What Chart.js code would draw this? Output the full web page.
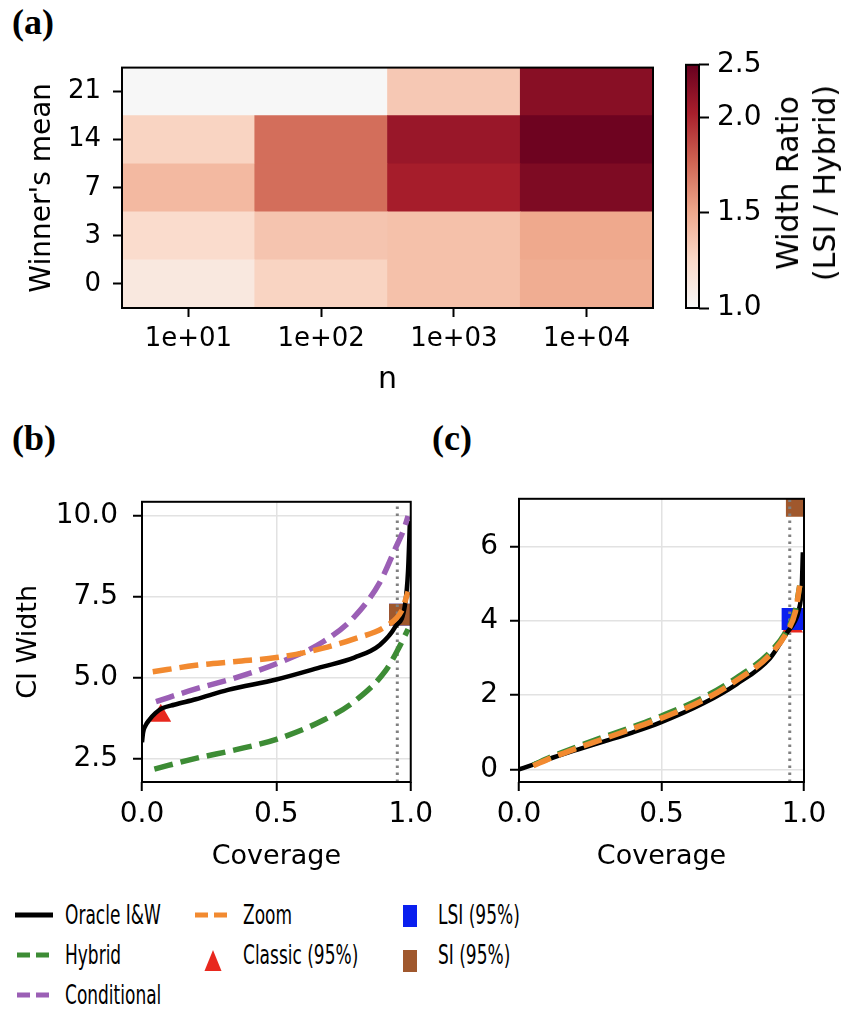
<!DOCTYPE html>
<html lang="en">
<head>
  <meta charset="UTF-8">
  <title>Width ratio heatmap and CI width vs coverage</title>
  <script src="https://cdn.jsdelivr.net/npm/chart.js@4.4.1/dist/chart.umd.min.js"></script>
  <style>
    body {
      margin: 0;
      background: #fff;
      font-family: 'DejaVu Sans', sans-serif;
      color: #000;
    }
    #page {
      position: relative;
      width: 844px;
      height: 1013px;
      overflow: hidden;
    }
    canvas { position: absolute; }
    .panel {
      position: absolute;
      font-family: 'Liberation Serif', serif;
      font-weight: bold;
      font-size: 36px;
      line-height: 1;
    }
    #cbarLabel {
      position: absolute;
      left: 806px;
      top: 183px;
      transform: translate(-50%, -50%) rotate(-90deg);
      font-size: 30px;
      line-height: 37px;
      text-align: center;
      white-space: nowrap;
    }
    .legText {
      position: absolute;
      font-size: 27px;
      line-height: 32px;
      white-space: nowrap;
      transform: scaleX(0.63);
      transform-origin: left center;
    }
    svg.legMark { position: absolute; left: 0; top: 880px; }
  </style>
</head>
<body>
<div id="page">
  <div class="panel" style="left:12px; top:4px;">(a)</div>
  <div class="panel" style="left:12px; top:420px;">(b)</div>
  <div class="panel" style="left:432px; top:420px;">(c)</div>

  <canvas id="heat" width="660" height="360" style="left:0; top:40px;"></canvas>
  <canvas id="cbar" width="100" height="360" style="left:670px; top:40px;"></canvas>
  <div id="cbarLabel">Width Ratio<br>(LSI / Hybrid)</div>

  <canvas id="chartB" width="440" height="410" style="left:0; top:470px;"></canvas>
  <canvas id="chartC" width="404" height="410" style="left:440px; top:470px;"></canvas>

  <!-- legend -->
  <svg class="legMark" width="844" height="133">
    <line x1="15" y1="35" x2="53" y2="35" stroke="#000" stroke-width="5"/>
    <line x1="17" y1="75" x2="49" y2="75" stroke="#3d8c35" stroke-width="5" stroke-dasharray="13 6"/>
    <line x1="17" y1="115" x2="49" y2="115" stroke="#9b5fb5" stroke-width="5" stroke-dasharray="13 6"/>
    <line x1="195" y1="35" x2="227" y2="35" stroke="#f28a30" stroke-width="5" stroke-dasharray="13 6"/>
    <polygon points="213,70 204.5,91 221.5,91" fill="#e8281e"/>
    <rect x="403" y="25" width="14" height="22" fill="#0a1fef"/>
    <rect x="403" y="70" width="14" height="22" fill="#a0582d"/>
  </svg>
  <div class="legText" style="left:65px; top:899px;">Oracle I&amp;W</div>
  <div class="legText" style="left:65px; top:939px;">Hybrid</div>
  <div class="legText" style="left:65px; top:979px;">Conditional</div>
  <div class="legText" style="left:243px; top:899px;">Zoom</div>
  <div class="legText" style="left:243px; top:939px;">Classic (95%)</div>
  <div class="legText" style="left:438px; top:899px;">LSI (95%)</div>
  <div class="legText" style="left:438px; top:939px;">SI (95%)</div>
</div>

<script>
  // ---- (a) heatmap data: width ratio LSI / Hybrid ----
  const nLabels = ['1e+01', '1e+02', '1e+03', '1e+04'];
  const meanLabels = ['0', '3', '7', '14', '21'];   // bottom to top
  const ratioMean0  = [1.13, 1.28, 1.38, 1.48];
  const ratioMean3  = [1.23, 1.36, 1.38, 1.50];
  const ratioMean7  = [1.42, 1.73, 2.06, 2.34];
  const ratioMean14 = [1.28, 1.73, 2.15, 2.45];
  const ratioMean21 = [1.00, 1.00, 1.34, 2.27];
  const ratioRows = [ratioMean0, ratioMean3, ratioMean7, ratioMean14, ratioMean21];

  // colorbar: tick values and where they sit on the bar (0 = bottom, 1 = top)
  const cbarTicks = [1.0, 1.5, 2.0, 2.5];
  const cbarPos = [0, 0.392, 0.784, 1];

  // ---- (b) CI width vs coverage ----
  const bOracleCov   = [0, 0.004, 0.012, 0.028, 0.05, 0.075, 0.12, 0.2, 0.32, 0.5, 0.67, 0.79, 0.885, 0.944, 0.979, 0.99, 0.997];
  const bOracleWidth = [3.0, 3.3, 3.5, 3.7, 3.9, 4.05, 4.16, 4.33, 4.62, 4.94, 5.33, 5.62, 6.01, 6.59, 7.27, 8.3, 9.85];
  const bHybridCov   = [0.046, 0.2, 0.35, 0.5, 0.674, 0.79, 0.908, 0.955, 0.99];
  const bHybridWidth = [2.17, 2.5, 2.77, 3.09, 3.68, 4.26, 5.23, 5.91, 6.5];
  const bCondCov     = [0.052, 0.2, 0.35, 0.5, 0.674, 0.79, 0.885, 0.944, 0.975, 0.99];
  const bCondWidth   = [4.26, 4.65, 5.0, 5.43, 6.11, 6.88, 7.95, 9.02, 9.6, 10.0];
  const bZoomCov     = [0.04, 0.2, 0.35, 0.5, 0.674, 0.79, 0.908, 0.967, 0.99];
  const bZoomWidth   = [5.18, 5.38, 5.5, 5.62, 5.91, 6.2, 6.59, 7.08, 7.66];
  const bClassic = [0.07, 3.82];
  const bLSI     = [0.96, 6.95];
  const bSI      = [0.96, 6.95];

  // ---- (c) ----
  const cOracleCov   = [0, 0.05, 0.12, 0.2, 0.296, 0.4, 0.495, 0.647, 0.764, 0.88, 0.939, 0.965, 0.982, 0.992, 0.996];
  const cOracleWidth = [0, 0.13, 0.32, 0.52, 0.75, 1.0, 1.26, 1.78, 2.3, 2.99, 3.67, 3.95, 4.3, 4.9, 5.85];
  const cHybridCov   = [0.05, 0.12, 0.2, 0.3, 0.4, 0.5, 0.65, 0.76, 0.88, 0.94, 0.97, 0.985];
  const cHybridWidth = [0.12, 0.36, 0.6, 0.88, 1.15, 1.44, 1.95, 2.45, 3.15, 3.75, 4.3, 4.95];
  const cZoomCov     = [0.05, 0.12, 0.2, 0.3, 0.4, 0.5, 0.65, 0.76, 0.88, 0.94, 0.97, 0.985];
  const cZoomWidth   = [0.1, 0.33, 0.56, 0.83, 1.1, 1.38, 1.88, 2.38, 3.08, 3.7, 4.25, 4.95];
  const cClassic = [0.96, 3.85];
  const cLSI     = [0.96, 4.05];
  const cSI      = [0.975, 7.1];

  const targetCoverage = 0.95;

  const COL = {
    oracle: '#000000', hybrid: '#3d8c35', cond: '#9b5fb5', zoom: '#f28a30',
    classic: '#e8281e', lsi: '#0a1fef', si: '#a0582d', target: '#808080'
  };

  Chart.defaults.font.family = "'DejaVu Sans', sans-serif";
  Chart.defaults.color = '#000';
  Chart.defaults.animation = false;

  // RdBu_r upper half
  const cmapStops = [[0, '#f7f7f7'], [0.2, '#fad9c8'], [0.4, '#efa78b'], [0.6, '#cf6553'], [0.8, '#a91f2c'], [1, '#67001f']];

  function hexRgb(h) {
    return [1, 3, 5].map(i => parseInt(h.slice(i, i + 2), 16));
  }
  function cmap(p) {
    p = Math.max(0, Math.min(1, p));
    for (let i = 1; i < cmapStops.length; i++) {
      const [p1, c1] = cmapStops[i];
      const [p0, c0] = cmapStops[i - 1];
      if (p <= p1) {
        const t = (p - p0) / (p1 - p0);
        const a = hexRgb(c0), b = hexRgb(c1);
        const rgb = a.map((v, k) => Math.round(v + (b[k] - v) * t));
        return `rgb(${rgb.join(',')})`;
      }
    }
    return cmapStops[cmapStops.length - 1][1];
  }
  function ratioColor(v) {
    for (let i = 1; i < cbarTicks.length; i++) {
      if (v <= cbarTicks[i]) {
        const t = (v - cbarTicks[i - 1]) / (cbarTicks[i] - cbarTicks[i - 1]);
        return cmap(cbarPos[i - 1] + t * (cbarPos[i] - cbarPos[i - 1]));
      }
    }
    return cmap(1);
  }

  // draws the box round the axes, like matplotlib spines
  const frame = {
    id: 'frame',
    afterDatasetsDraw(chart) {
      const { ctx, chartArea: a } = chart;
      ctx.save();
      ctx.strokeStyle = '#000';
      ctx.lineWidth = 2;
      ctx.strokeRect(a.left, a.top, a.right - a.left, a.bottom - a.top);
      ctx.restore();
    }
  };

  const tickGrid = { drawOnChartArea: false, tickLength: 9, tickColor: '#000', tickWidth: 2 };

  // ---- (a) heatmap ----
  new Chart(document.getElementById('heat'), {
    type: 'bar',
    data: {
      labels: nLabels,
      datasets: ratioRows.map((row, i) => ({
        data: row.map(() => [i, i + 1]),
        backgroundColor: row.map(ratioColor),
        borderWidth: 0,
        grouped: false,
        barPercentage: 1,
        categoryPercentage: 1
      }))
    },
    options: {
      responsive: false,
      layout: { padding: { top: 18, right: 7, left: 0, bottom: 0 } },
      plugins: { legend: { display: false }, tooltip: { enabled: false } },
      scales: {
        x: {
          offset: true,
          grid: { ...tickGrid, offset: false },
          border: { display: false },
          ticks: { font: { size: 26 }, padding: 7, maxRotation: 0 },
          title: { display: true, text: 'n', font: { size: 30 }, padding: { top: 0, bottom: 2 } },
          afterFit: s => { s.height = 92; }
        },
        y: {
          min: 0,
          max: 5,
          afterBuildTicks: s => { s.ticks = meanLabels.map((_, i) => ({ value: i + 0.5 })); },
          grid: tickGrid,
          border: { display: false },
          ticks: { font: { size: 26 }, padding: 12, callback: v => meanLabels[Math.floor(v)] },
          title: { display: true, text: "Winner's mean", font: { size: 28 }, padding: { top: 26, bottom: 0 } },
          afterFit: s => { s.width = 122; }
        }
      }
    },
    plugins: [frame]
  });

  // ---- colorbar ----
  new Chart(document.getElementById('cbar'), {
    type: 'bar',
    data: {
      labels: [''],
      datasets: [{
        data: [[0, 1]],
        borderWidth: 0,
        barPercentage: 1,
        categoryPercentage: 1,
        backgroundColor: ctx => {
          const area = ctx.chart.chartArea;
          if (!area) return '#fff';
          const g = ctx.chart.ctx.createLinearGradient(0, area.bottom, 0, area.top);
          cmapStops.forEach(([p, c]) => g.addColorStop(p, c));
          return g;
        }
      }]
    },
    options: {
      responsive: false,
      layout: { padding: { top: 18, left: 16, bottom: 92, right: 0 } },
      plugins: { legend: { display: false }, tooltip: { enabled: false } },
      scales: {
        x: { display: false },
        y: {
          position: 'right',
          min: 0,
          max: 1,
          afterBuildTicks: s => { s.ticks = cbarPos.map(v => ({ value: v })); },
          grid: { ...tickGrid, tickLength: 10 },
          border: { display: false },
          ticks: { font: { size: 28 }, padding: 8, callback: (v, i) => cbarTicks[i].toFixed(1) },
          afterFit: s => { s.width = 71; }
        }
      }
    },
    plugins: [frame]
  });

  // ---- (b) and (c) ----
  const pts = (xs, ys) => xs.map((x, i) => ({ x, y: ys[i] }));

  function curve(xs, ys, color, dashed) {
    return {
      data: pts(xs, ys),
      showLine: true,
      borderColor: color,
      borderWidth: dashed ? 5.5 : 4.5,
      borderDash: dashed ? [19, 8] : [],
      borderCapStyle: 'butt',
      cubicInterpolationMode: 'monotone',
      pointRadius: 0
    };
  }
  function marker(p, color, style, r) {
    return {
      data: [{ x: p[0], y: p[1] }],
      pointStyle: style,
      pointRadius: r,
      pointBackgroundColor: color,
      pointBorderWidth: 0
    };
  }
  function targetLine(ymin, ymax) {
    return {
      data: [{ x: targetCoverage, y: ymin }, { x: targetCoverage, y: ymax }],
      showLine: true,
      borderColor: COL.target,
      borderWidth: 3,
      borderDash: [2.5, 4.5],
      borderCapStyle: 'butt',
      pointRadius: 0
    };
  }

  function coverageChart(id, datasets, ymin, ymax, yTicks, yDigits, yWidth, yPad, yTitle, padRight, padTop) {
    return new Chart(document.getElementById(id), {
      type: 'scatter',
      data: { datasets },
      options: {
        responsive: false,
        layout: { padding: { top: padTop, right: padRight, left: 0, bottom: 0 } },
        plugins: { legend: { display: false }, tooltip: { enabled: false } },
        scales: {
          x: {
            type: 'linear',
            min: 0,
            max: 1,
            ticks: { stepSize: 0.5, font: { size: 28 }, padding: 7, callback: v => v.toFixed(1) },
            grid: { color: '#e2e2e2', lineWidth: 1.5, tickLength: 9, tickColor: '#000', tickWidth: 2 },
            border: { display: false },
            title: { display: true, text: 'Coverage', font: { size: 27 }, padding: { top: 0, bottom: 7 } },
            afterFit: s => { s.height = 98; }
          },
          y: {
            min: ymin,
            max: ymax,
            afterBuildTicks: s => { s.ticks = yTicks.map(v => ({ value: v })); },
            ticks: { font: { size: 28 }, padding: yPad, callback: v => v.toFixed(yDigits) },
            grid: { color: '#e2e2e2', lineWidth: 1.5, tickLength: 9, tickColor: '#000', tickWidth: 2 },
            border: { display: false },
            title: { display: !!yTitle, text: yTitle || '', font: { size: 27 }, padding: { top: 13, bottom: 0 } },
            afterFit: s => { s.width = yWidth; }
          }
        }
      },
      plugins: [frame]
    });
  }

  // dataset 0 is drawn on top
  coverageChart('chartB', [
    curve(bZoomCov, bZoomWidth, COL.zoom, true),
    curve(bCondCov, bCondWidth, COL.cond, true),
    curve(bHybridCov, bHybridWidth, COL.hybrid, true),
    curve(bOracleCov, bOracleWidth, COL.oracle, false),
    targetLine(1.77, 10.44),
    marker(bSI, COL.si, 'rect', 15.5),
    marker(bLSI, COL.lsi, 'rect', 15.5),
    marker(bClassic, COL.classic, 'triangle', 12)
  ], 1.77, 10.44, [2.5, 5, 7.5, 10], 1, 142, 15, 'CI Width', 14, 15);

  coverageChart('chartC', [
    curve(cZoomCov, cZoomWidth, COL.zoom, true),
    curve(cHybridCov, cHybridWidth, COL.hybrid, true),
    curve(cOracleCov, cOracleWidth, COL.oracle, false),
    targetLine(-0.34, 7.29),
    marker(cSI, COL.si, 'rect', 15.5),
    marker(cLSI, COL.lsi, 'rect', 15.5),
    marker(cClassic, COL.classic, 'triangle', 12)
  ], -0.34, 7.29, [0, 2, 4, 6], 0, 79, 12, '', 40, 16);
</script>
</body>
</html>
